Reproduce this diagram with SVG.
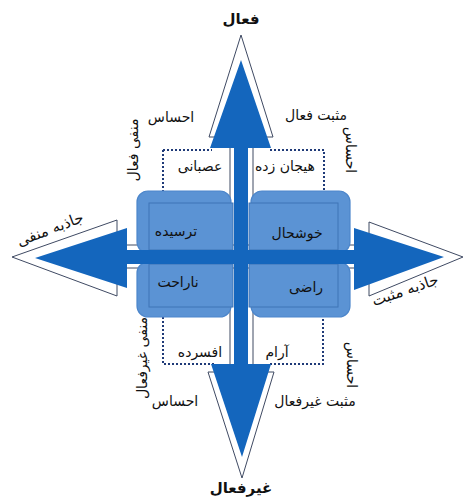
<svg xmlns="http://www.w3.org/2000/svg" width="464" height="498" viewBox="0 0 464 498">
<style>
.outline{fill:#ffffff;stroke:#3f4a63;stroke-width:1}
.solid{fill:#1466bd;stroke:none}
.box{fill:#5b93d4;stroke:#4c86cb;stroke-width:1.2}
.inner{fill:#5b93d4;stroke:#3f74b6;stroke-width:1}
.dot{fill:none;stroke:#1f3a78;stroke-width:2;stroke-dasharray:2 2}
text{font-family:"DejaVu Sans","Noto Sans",sans-serif;font-size:14px;fill:#111;text-anchor:middle}
.b{font-weight:bold;font-size:15px}
.j{font-size:15px}
</style>
<rect width="464" height="498" fill="#ffffff"/>
<g id="connectors">
<path class="outline" d="M241,35 L273,137 L253,137 L253,372 L274,372 L242,478 L208,372 L230,372 L230,137 L209,137 Z"/>
<path class="outline" d="M12,257 L117,220 L117,245 L369,245 L369,222 L463,257 L369,296 L369,268 L117,268 L117,296 Z"/>
</g>
<g id="dotted">
<path class="dot" d="M163,150 L163,191 M163,150 L212,150 M270,150 L324,150 L324,191"/>
<path class="dot" d="M163,317 L163,364 L214,364 M270,364 L323,364 L323,317"/>
</g>
<g id="q-tl"><rect class="box" x="137" y="191" width="94" height="62" rx="11"/><rect class="inner" x="149" y="203" width="84" height="47"/><text x="176" y="236">ترسیده</text></g>
<g id="q-tr"><rect class="box" x="251" y="191" width="99" height="62" rx="11"/><rect class="inner" x="249" y="203" width="89" height="47"/><text x="297" y="238">خوشحال</text></g>
<g id="q-bl"><rect class="box" x="137" y="262" width="94" height="55" rx="11"/><rect class="inner" x="149" y="264" width="84" height="43"/><text x="178" y="287">ناراحت</text></g>
<g id="q-br"><rect class="box" x="251" y="262" width="99" height="55" rx="11"/><rect class="inner" x="249" y="264" width="89" height="43"/><text x="306" y="292">راضی</text></g>
<g id="arrows">
<path class="solid" d="M241,60 L271,148 L248,148 L248,364 L271,364 L242,457 L211,364 L234,364 L234,148 L210,148 Z"/>
<path class="solid" d="M35,258 L127,228 L127,250 L354,250 L354,228 L444,257 L354,290 L354,264 L127,264 L127,288 Z"/>
</g>
<g id="labels">
<text class="b" x="241" y="24">فعال</text>
<text class="b" x="241" y="493">غیرفعال</text>
<text x="171" y="122">احساس</text>
<text x="316" y="120">مثبت فعال</text>
<text x="200" y="171">عصبانی</text>
<text x="285" y="171">هیجان زده</text>
<text x="200" y="357">افسرده</text>
<text x="277" y="357">آرام</text>
<text x="175" y="406">احساس</text>
<text x="315" y="406">مثبت غیرفعال</text>
<text transform="translate(133,150) rotate(-90)" dy="0.35em">منفی فعال</text>
<text transform="translate(351,150) rotate(90)" dy="0.35em">احساس</text>
<text transform="translate(142,358) rotate(-90)" dy="0.35em">منفی غیرفعال</text>
<text transform="translate(352,365) rotate(90)" dy="0.35em">احساس</text>
<text class="j" transform="translate(50,229) rotate(-21)" dy="0.35em">جاذبه منفی</text>
<text class="j" transform="translate(405,290) rotate(-19)" dy="0.35em">جاذبه مثبت</text>
</g>
</svg>
